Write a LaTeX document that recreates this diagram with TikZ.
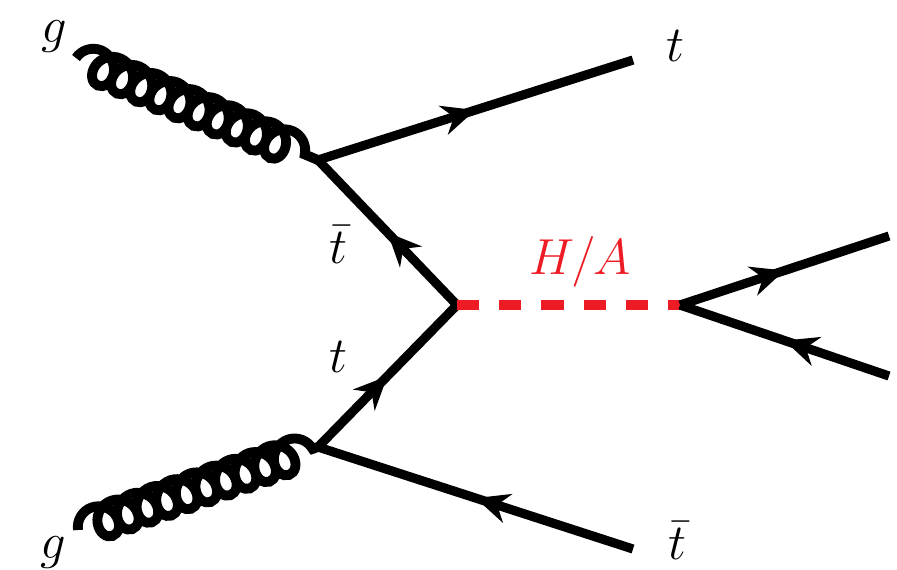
\documentclass[tikz,border=0pt]{standalone}
\usetikzlibrary{decorations.pathmorphing,decorations.markings,arrows.meta}
\definecolor{hred}{RGB}{237,28,36}
\tikzset{
  fermion/.style={line width=2.6pt, postaction={decorate},
    decoration={markings, mark=at position 0.5 with {\arrow{Stealth[length=9.5pt,width=8.5pt]}}}},
  gluon/.style={line width=2.8pt, decorate,
    decoration={coil, amplitude=4.8pt, segment length=5.9pt, aspect=0.9}},
  scalar/.style={line width=2.6pt, hred, dash pattern=on 6.3pt off 5.7pt},
  lbl/.style={font=\fontsize{15.5}{18}\selectfont, inner sep=0pt}
}
\begin{document}
\begin{tikzpicture}[x=0.01cm,y=-0.01cm]
\useasboundingbox (0,0) rectangle (897,569);

   \coordinate (gA) at (76,58);
   \coordinate (gB) at (78,530);
   \coordinate (vtop) at (318,160);
   \coordinate (vbot) at (318,447);
   \coordinate (vH) at (457,305);
   \coordinate (vdec) at (680,305);
   \coordinate (tout) at (633,60);
   \coordinate (tbarout) at (633,549);
   \coordinate (fA) at (889,236);
   \coordinate (fB) at (889,376);

   \node[lbl] at (54,37) (lgA) {$g$};
   \node[lbl] at (53,553) (lgB) {$g$};
   \node[lbl] at (675,46) (lt) {$t$};
   \node[lbl] at (677,541) (ltbar) {$\bar{t}$};
   \node[lbl] at (338,245) (ltbarin) {$\bar{t}$};
   \node[lbl] at (338,357) (ltin) {$t$};
   \node[lbl,text=hred] at (580,262) (lH) {$H/A$};

    % incoming gluons
    \draw[gluon] (gA) -- (vtop);
    \draw[gluon] (gB) -- (vbot);

    % top quark lines
    \draw[fermion] (vtop) -- (tout);
    \draw[fermion] (vH) -- (vtop);
    \draw[fermion] (vbot) -- (vH);
    \draw[fermion] (tbarout) -- (vbot);

    % H/A and decay
    \draw[scalar] (vH) -- (vdec);
    \draw[fermion] (vdec) -- (fA);
    \draw[fermion] (fB) -- (vdec);

\end{tikzpicture}
\end{document}
